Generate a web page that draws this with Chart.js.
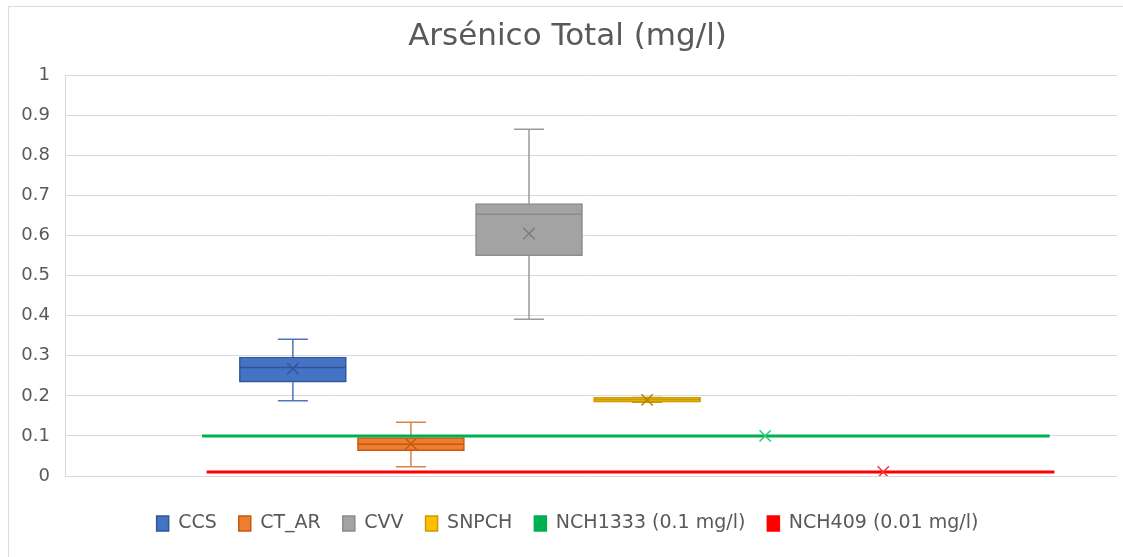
<!DOCTYPE html>
<html>
<head>
<meta charset="utf-8">
<script src="https://cdn.jsdelivr.net/npm/chart.js@4"></script>
<style>
  html, body { margin: 0; padding: 0; background: #fff; overflow: hidden; width: 1123px; height: 557px; }
  #frame { position: absolute; left: 8px; top: 6px; width: 1130px; height: 570px; border: 1px solid #dcdcdc; }
  #wrap { position: absolute; left: 0; top: 0; width: 1123px; height: 557px; }
</style>
</head>
<body>
<div id="frame"></div>
<div id="wrap"><canvas id="myChart"></canvas></div>
<script>
// box-and-whisker values
const seriesNames = ['CCS', 'CT_AR', 'CVV', 'SNPCH', 'NCH1333 (0.1 mg/l)', 'NCH409 (0.01 mg/l)'];
const mins    = [0.188, 0.023, 0.391, 0.184, 0.1, 0.01];
const q1s     = [0.234, 0.063, 0.550, 0.184, 0.1, 0.01];
const medians = [0.271, 0.079, 0.653, 0.190, 0.1, 0.01];
const q3s     = [0.297, 0.096, 0.680, 0.196, 0.1, 0.01];
const maxs    = [0.341, 0.134, 0.865, 0.196, 0.1, 0.01];
const means   = [0.268, 0.080, 0.605, 0.190, 0.1, 0.01];

// the two limit lines drawn across the chart
const limitValues = [0.1, 0.01];
const limitFrom   = [-0.77, -0.73];
const limitTo     = [6.41, 6.45];

const yTicks = [0, 0.1, 0.2, 0.3, 0.4, 0.5, 0.6, 0.7, 0.8, 0.9, 1];

const fills   = ['#4472C4', '#ED7D31', '#A3A3A3', '#FFC000', '#00B050', '#FF0000'];
const borders = ['#2F5597', '#C55A11', '#8C8C8C', '#C99A06', '#00B050', '#FF0000'];
const whiskerColors = ['#4F74BA', '#D9814A', '#9A9A9A', '#C99A06', '#00B050', '#FF0000'];

const boxDatasets = seriesNames.map((name, i) => ({
    type: 'bar',
    label: name,
    data: [{ x: i, y: [q1s[i], q3s[i]] }],
    backgroundColor: fills[i],
    borderColor: borders[i],
    borderWidth: 1.5,
    borderSkipped: false,
    barThickness: 107,
    grouped: false,
    order: 3
}));

const limitDatasets = limitValues.map((v, i) => ({
    type: 'line',
    label: 'limit' + i,
    data: [{ x: limitFrom[i], y: v }, { x: limitTo[i], y: v }],
    borderColor: i === 0 ? '#00B050' : '#FF0000',
    borderWidth: 3,
    pointRadius: 0,
    fill: false,
    order: 2
}));

const meanDataset = {
    type: 'scatter',
    label: 'mean',
    data: means.map((m, i) => ({ x: i, y: m })),
    pointStyle: 'crossRot',
    pointRadius: 8,
    pointBorderWidth: 1.5,
    pointBorderColor: ['#2F5597', '#C55A11', '#7F7F7F', '#B08400', '#2ECC71', '#FF3030'],
    order: 1
};

const whiskerPlugin = {
    id: 'whiskers',
    beforeDatasetsDraw(chart) {
        const { ctx, scales: { x, y } } = chart;
        ctx.save();
        ctx.lineWidth = 1.5;
        seriesNames.forEach((n, i) => {
            const cx = x.getPixelForValue(i);
            ctx.strokeStyle = whiskerColors[i];
            ctx.beginPath();
            ctx.moveTo(cx, y.getPixelForValue(q3s[i]));
            ctx.lineTo(cx, y.getPixelForValue(maxs[i]));
            ctx.moveTo(cx, y.getPixelForValue(q1s[i]));
            ctx.lineTo(cx, y.getPixelForValue(mins[i]));
            ctx.moveTo(cx - 15, y.getPixelForValue(maxs[i]));
            ctx.lineTo(cx + 15, y.getPixelForValue(maxs[i]));
            ctx.moveTo(cx - 15, y.getPixelForValue(mins[i]));
            ctx.lineTo(cx + 15, y.getPixelForValue(mins[i]));
            ctx.stroke();
        });
        ctx.restore();
    },
    afterDatasetDraw(chart, args) {
        if (args.index > 5) return;
        const i = args.index;
        const { ctx, scales: { x, y } } = chart;
        const cx = x.getPixelForValue(i);
        ctx.save();
        ctx.lineWidth = 1.5;
        ctx.strokeStyle = borders[i];
        ctx.beginPath();
        ctx.moveTo(cx - 53, y.getPixelForValue(medians[i]));
        ctx.lineTo(cx + 53, y.getPixelForValue(medians[i]));
        ctx.stroke();
        ctx.restore();
    }
};

const ctx = document.getElementById('myChart').getContext('2d');
new Chart(ctx, {
    type: 'bar',
    data: { datasets: [...boxDatasets, ...limitDatasets, meanDataset] },
    options: {
        responsive: true,
        maintainAspectRatio: false,
        animation: false,
        layout: { autoPadding: false, padding: { left: 18, right: 6, top: 0, bottom: 14 } },
        plugins: {
            title: {
                display: true,
                text: 'Arsénico Total (mg/l)',
                color: '#595959',
                font: { family: 'DejaVu Sans', size: 31, weight: 'normal' },
                padding: { top: 18, bottom: 20 }
            },
            legend: {
                position: 'bottom',
                labels: {
                    filter: item => item.datasetIndex < 6,
                    boxWidth: 12,
                    boxHeight: 15,
                    padding: 22,
                    color: '#595959',
                    font: { family: 'DejaVu Sans', size: 19 }
                }
            },
            tooltip: { enabled: false }
        },
        scales: {
            x: {
                type: 'linear',
                min: -1.93,
                max: 6.98,
                offset: false,
                grid: { display: false },
                border: { display: false },
                ticks: { display: false },
                afterFit(scale) { scale.height = 16; }
            },
            y: {
                min: 0,
                max: 1,
                afterBuildTicks(scale) { scale.ticks = yTicks.map(v => ({ value: v })); },
                afterFit(scale) { scale.width = 47; },
                grid: { color: '#d9d9d9', drawTicks: false },
                border: { display: true, color: '#d9d9d9' },
                ticks: {
                    padding: 15,
                    color: '#595959',
                    font: { family: 'DejaVu Sans', size: 18 },
                    callback: v => String(Number(v.toFixed(2)))
                }
            }
        }
    },
    plugins: [whiskerPlugin]
});
</script>
</body>
</html>
